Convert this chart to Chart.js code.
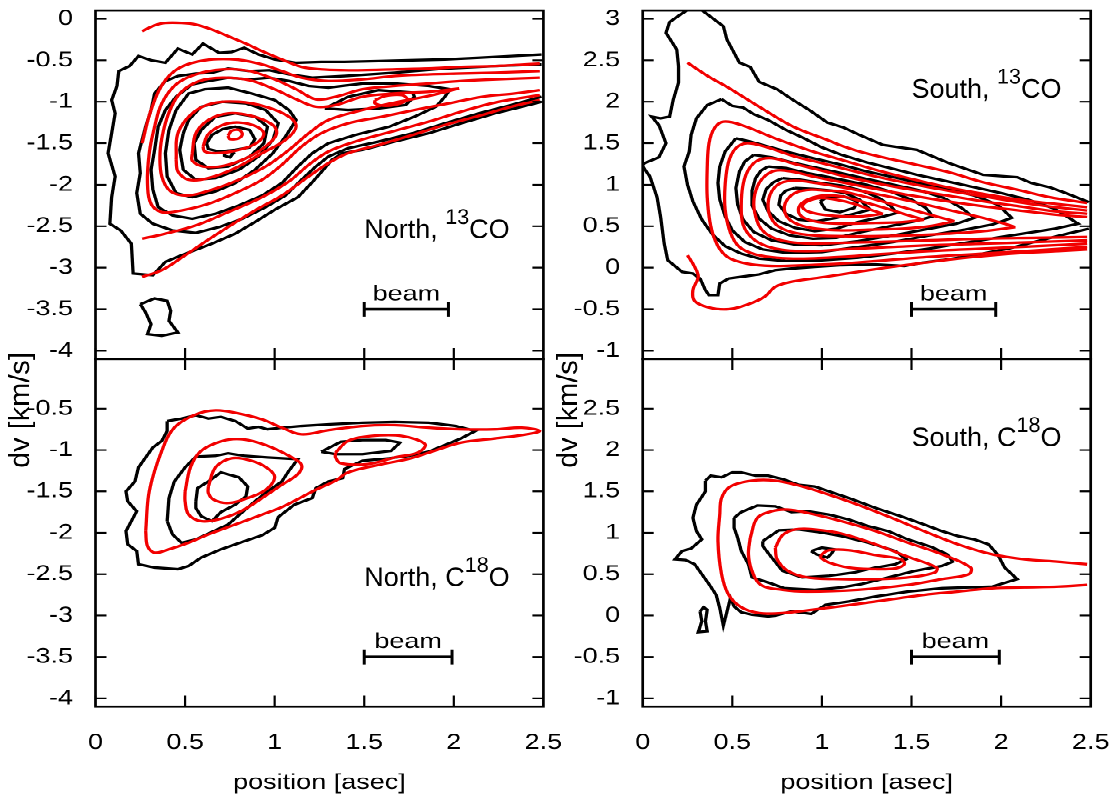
<!DOCTYPE html>
<html><head><meta charset="utf-8"><title>PV contours</title>
<script src="https://cdn.jsdelivr.net/npm/chart.js@4.4.1/dist/chart.umd.min.js"></script>
<style>
html,body{margin:0;padding:0;background:#fff;width:1116px;height:803px;overflow:hidden}
#stage{position:absolute;left:0;top:0;width:1116px;height:1004px;transform:scale(1,0.8);transform-origin:0 0}
#stage canvas{position:absolute;left:0;top:0}
</style></head><body>
<div id="stage">
<canvas id="tl" width="1116" height="1004"></canvas>
<canvas id="tr" width="1116" height="1004"></canvas>
<canvas id="bl" width="1116" height="1004"></canvas>
<canvas id="br" width="1116" height="1004"></canvas>
</div>
<script>
// ---------------- data ----------------
const xTicks = [0, 0.5, 1, 1.5, 2, 2.5];
const yTicksNorth13 = [0, -0.5, -1, -1.5, -2, -2.5, -3, -3.5, -4];
const yTicksNorth18 = [-0.5, -1, -1.5, -2, -2.5, -3, -3.5, -4];
const yTicksSouth13 = [3, 2.5, 2, 1.5, 1, 0.5, 0, -0.5, -1];
const yTicksSouth18 = [2.5, 2, 1.5, 1, 0.5, 0, -0.5, -1];
const xRange = [0, 2.5];
const yRangeNorth = [-4.1, 0.1];
const yRangeSouth = [-1.1, 3.1];
const beam13 = [1.5, 1.97];
const beam18 = [1.5, 1.99];
const beamYNorth = -3.5;
const beamYSouth = -0.5;
const labelXPos = 1.5;
const labelYNorth = -2.55;
const labelYSouth = 2.14;

// North, 13CO : observed (black)
const north13Obs = [
 [[2.49,-0.43],[2.32,-0.45],[2.14,-0.47],[1.95,-0.49],[1.77,-0.50],[1.58,-0.51],[1.39,-0.52],[1.26,-0.52],[1.12,-0.53],[1.0,-0.49],[0.91,-0.43],[0.83,-0.35],[0.76,-0.40],[0.69,-0.41],[0.60,-0.30],[0.54,-0.43],[0.46,-0.36],[0.39,-0.53],[0.31,-0.50],[0.24,-0.45],[0.19,-0.57],[0.13,-0.63],[0.12,-0.81],[0.09,-0.98],[0.11,-1.14],[0.09,-1.38],[0.07,-1.62],[0.11,-1.90],[0.09,-2.15],[0.08,-2.47],[0.14,-2.55],[0.20,-2.71],[0.21,-3.07],[0.32,-3.09],[0.39,-2.93],[0.48,-2.85],[0.65,-2.71],[0.78,-2.59],[0.89,-2.45],[1.01,-2.29],[1.13,-2.15],[1.21,-1.97],[1.28,-1.80],[1.32,-1.70],[1.38,-1.62],[1.49,-1.58],[1.67,-1.48],[1.86,-1.38],[2.04,-1.26],[2.23,-1.14],[2.38,-1.06],[2.49,-1.0]],
 [[2.49,-0.55],[2.23,-0.57],[1.95,-0.60],[1.67,-0.65],[1.39,-0.69],[1.21,-0.71],[1.08,-0.67],[0.97,-0.62],[0.86,-0.63],[0.74,-0.60],[0.65,-0.65],[0.56,-0.66],[0.46,-0.69],[0.39,-0.75],[0.33,-0.90],[0.31,-1.10],[0.28,-1.30],[0.24,-1.62],[0.25,-1.86],[0.23,-2.10],[0.25,-2.35],[0.32,-2.47],[0.43,-2.55],[0.56,-2.58],[0.69,-2.51],[0.82,-2.41],[0.95,-2.27],[1.06,-2.13],[1.15,-1.94],[1.23,-1.78],[1.30,-1.66],[1.41,-1.56],[1.58,-1.48],[1.77,-1.38],[1.95,-1.26],[2.14,-1.14],[2.32,-1.04],[2.49,-0.94]],
 [[1.98,-0.85],[1.86,-0.81],[1.67,-0.78],[1.49,-0.78],[1.30,-0.83],[1.19,-0.81],[1.08,-0.75],[0.97,-0.71],[0.86,-0.73],[0.74,-0.71],[0.63,-0.75],[0.54,-0.79],[0.45,-0.94],[0.39,-1.10],[0.35,-1.30],[0.33,-1.58],[0.31,-1.82],[0.32,-2.06],[0.35,-2.27],[0.43,-2.37],[0.54,-2.41],[0.67,-2.35],[0.80,-2.25],[0.93,-2.13],[1.04,-1.98],[1.13,-1.78],[1.21,-1.62],[1.30,-1.50],[1.45,-1.40],[1.64,-1.30],[1.78,-1.18],[1.90,-1.06],[1.95,-0.94],[1.98,-0.85]],
 [[0.45,-1.10],[0.52,-0.90],[0.61,-0.85],[0.74,-0.83],[0.87,-0.90],[1.0,-0.98],[1.08,-1.10],[1.12,-1.22],[1.06,-1.42],[0.99,-1.62],[0.89,-1.82],[0.78,-1.98],[0.67,-2.08],[0.54,-2.15],[0.45,-2.10],[0.40,-1.90],[0.39,-1.62],[0.41,-1.34],[0.45,-1.10]],
 [[1.28,-1.08],[1.41,-0.94],[1.58,-0.86],[1.77,-0.89],[1.78,-0.94],[1.73,-1.04],[1.58,-1.08],[1.41,-1.10],[1.28,-1.08]],
 [[0.49,-1.38],[0.52,-1.22],[0.59,-1.06],[0.71,-1.0],[0.84,-1.02],[0.95,-1.10],[1.02,-1.26],[0.99,-1.46],[0.91,-1.66],[0.80,-1.82],[0.67,-1.92],[0.56,-1.94],[0.49,-1.82],[0.47,-1.58],[0.49,-1.38]],
 [[0.55,-1.50],[0.59,-1.34],[0.67,-1.18],[0.78,-1.14],[0.89,-1.18],[0.96,-1.30],[0.94,-1.50],[0.86,-1.66],[0.74,-1.78],[0.63,-1.80],[0.56,-1.70],[0.55,-1.50]],
 [[0.62,-1.50],[0.65,-1.40],[0.71,-1.33],[0.78,-1.30],[0.86,-1.34],[0.89,-1.45],[0.86,-1.55],[0.78,-1.58],[0.69,-1.60],[0.63,-1.57],[0.62,-1.50]],
 [[0.72,-1.61],[0.74,-1.59],[0.77,-1.62],[0.75,-1.67],[0.72,-1.65],[0.72,-1.61]],
 [[0.25,-3.44],[0.33,-3.37],[0.40,-3.40],[0.42,-3.52],[0.41,-3.64],[0.46,-3.78],[0.37,-3.82],[0.29,-3.80],[0.31,-3.68],[0.28,-3.54],[0.25,-3.44]]
];
// North, 13CO : model (red)
const north13Mod = [
 [[0.26,-0.15],[0.33,-0.08],[0.39,-0.05],[0.48,-0.05],[0.56,-0.07],[0.65,-0.13],[0.74,-0.21],[0.84,-0.30],[0.93,-0.39],[1.04,-0.49],[1.15,-0.58],[1.26,-0.61],[1.39,-0.62],[1.49,-0.62],[1.67,-0.61],[1.86,-0.60],[2.04,-0.58],[2.23,-0.57],[2.48,-0.54]],
 [[0.26,-1.50],[0.31,-1.10],[0.38,-0.77],[0.47,-0.59],[0.61,-0.50],[0.78,-0.49],[0.93,-0.55],[1.04,-0.63],[1.15,-0.71],[1.30,-0.75],[1.49,-0.73],[1.67,-0.69],[1.86,-0.67],[2.04,-0.66],[2.23,-0.65],[2.48,-0.63]],
 [[0.26,-2.65],[0.37,-2.60],[0.56,-2.49],[0.74,-2.33],[0.93,-2.15],[1.08,-1.96],[1.19,-1.76],[1.30,-1.60],[1.45,-1.48],[1.67,-1.35],[1.86,-1.24],[2.04,-1.12],[2.23,-1.01],[2.48,-0.92]],
 [[0.26,-3.11],[0.37,-3.03],[0.48,-2.88],[0.61,-2.69],[0.74,-2.51],[0.89,-2.31],[1.04,-2.13],[1.19,-1.90],[1.30,-1.74],[1.41,-1.62],[1.58,-1.52],[1.77,-1.40],[1.95,-1.28],[2.14,-1.17],[2.32,-1.06],[2.48,-0.98]],
 [[2.48,-0.86],[2.34,-0.90],[2.16,-0.94],[1.97,-1.02],[1.78,-1.10],[1.60,-1.18],[1.41,-1.26],[1.26,-1.38],[1.15,-1.54],[1.04,-1.76],[0.93,-1.94],[0.78,-2.10],[0.63,-2.23],[0.48,-2.31],[0.37,-2.33],[0.31,-2.23],[0.29,-1.98],[0.30,-1.62],[0.33,-1.30],[0.37,-1.02],[0.45,-0.79],[0.56,-0.67],[0.71,-0.61],[0.86,-0.63],[1.00,-0.73],[1.12,-0.85],[1.23,-0.97],[1.34,-0.94],[1.49,-0.85],[1.67,-0.81],[1.86,-0.78],[2.04,-0.75],[2.23,-0.73],[2.48,-0.71]],
 [[2.03,-0.84],[1.86,-0.88],[1.67,-0.90],[1.49,-0.94],[1.34,-1.04],[1.23,-1.06],[1.12,-0.97],[1.00,-0.85],[0.86,-0.74],[0.71,-0.71],[0.58,-0.75],[0.48,-0.88],[0.42,-1.08],[0.38,-1.34],[0.36,-1.62],[0.37,-1.90],[0.42,-2.08],[0.51,-2.13],[0.65,-2.06],[0.80,-1.94],[0.95,-1.78],[1.08,-1.58],[1.19,-1.38],[1.30,-1.22],[1.49,-1.10],[1.67,-1.01],[1.86,-0.93],[2.03,-0.84]],
 [[0.45,-1.70],[0.46,-1.38],[0.54,-1.14],[0.65,-1.02],[0.80,-1.00],[0.95,-1.06],[1.08,-1.18],[1.12,-1.30],[1.06,-1.46],[0.93,-1.62],[0.78,-1.80],[0.63,-1.92],[0.52,-1.94],[0.46,-1.84],[0.45,-1.70]],
 [[0.54,-1.62],[0.56,-1.38],[0.63,-1.22],[0.74,-1.14],[0.87,-1.17],[0.99,-1.28],[1.01,-1.39],[0.96,-1.52],[0.86,-1.66],[0.72,-1.77],[0.60,-1.78],[0.54,-1.71],[0.54,-1.62]],
 [[0.60,-1.54],[0.63,-1.39],[0.71,-1.28],[0.80,-1.25],[0.90,-1.30],[0.94,-1.39],[0.89,-1.51],[0.78,-1.59],[0.67,-1.62],[0.61,-1.60],[0.60,-1.54]],
 [[0.74,-1.41],[0.76,-1.35],[0.80,-1.34],[0.82,-1.39],[0.80,-1.44],[0.75,-1.45],[0.74,-1.41]],
 [[1.56,-0.98],[1.62,-0.93],[1.71,-0.92],[1.74,-0.97],[1.70,-1.02],[1.62,-1.05],[1.56,-1.02],[1.56,-0.98]]
];

// South, 13CO : observed (black)
const south13Obs = [
 [[0.26,3.12],[0.21,3.05],[0.15,2.96],[0.13,2.83],[0.19,2.63],[0.20,2.43],[0.20,2.23],[0.17,2.02],[0.15,1.82],[0.10,1.80],[0.05,1.82],[0.09,1.72],[0.13,1.50],[0.09,1.33],[0.01,1.26],[0.0,1.24]],
 [[0.0,1.22],[0.04,1.10],[0.08,0.85],[0.10,0.61],[0.12,0.29],[0.14,0.09],[0.22,-0.05],[0.28,-0.07],[0.32,-0.13],[0.35,-0.27],[0.37,-0.33],[0.42,-0.33],[0.43,-0.19],[0.48,-0.13],[0.55,-0.11],[0.65,-0.08],[0.74,-0.03],[0.83,-0.01],[0.96,0.01],[1.11,0.03],[1.30,0.04],[1.46,0.02],[1.56,0.06],[1.67,0.09],[1.85,0.15],[2.04,0.23],[2.22,0.33],[2.37,0.41],[2.49,0.47]],
 [[0.32,3.12],[0.45,2.91],[0.47,2.75],[0.54,2.47],[0.60,2.42],[0.65,2.24],[0.75,2.15],[0.84,2.02],[0.93,1.90],[1.03,1.75],[1.12,1.69],[1.21,1.60],[1.34,1.48],[1.53,1.42],[1.71,1.26],[1.90,1.12],[2.09,1.09],[2.17,1.02],[2.27,0.97],[2.36,0.90],[2.49,0.79]],
 [[0.44,2.03],[0.50,1.95],[0.56,1.93],[0.62,1.85],[0.70,1.78],[0.80,1.66],[0.90,1.56],[1.0,1.45],[1.11,1.36],[1.25,1.27],[1.40,1.19],[1.55,1.11],[1.70,1.04],[1.85,0.97],[2.00,0.90],[2.15,0.82],[2.30,0.71],[2.43,0.53],[2.30,0.47],[2.15,0.42],[2.00,0.37],[1.80,0.30],[1.60,0.23],[1.40,0.17],[1.20,0.12],[1.00,0.09],[0.80,0.08],[0.65,0.11],[0.55,0.17],[0.46,0.26],[0.39,0.40],[0.33,0.58],[0.28,0.80],[0.25,1.00],[0.23,1.22],[0.26,1.40],[0.27,1.60],[0.30,1.80],[0.36,1.96],[0.44,2.03]],
 [[0.52,1.56],[0.60,1.52],[0.70,1.46],[0.80,1.40],[0.95,1.32],[1.11,1.24],[1.25,1.16],[1.40,1.09],[1.55,1.02],[1.70,0.95],[1.85,0.87],[1.98,0.76],[2.06,0.60],[1.95,0.52],[1.80,0.46],[1.60,0.39],[1.40,0.31],[1.20,0.25],[1.00,0.19],[0.80,0.18],[0.67,0.22],[0.57,0.31],[0.50,0.45],[0.46,0.62],[0.43,0.82],[0.42,1.02],[0.43,1.22],[0.46,1.40],[0.52,1.56]],
 [[0.62,1.36],[0.72,1.33],[0.85,1.26],[1.0,1.19],[1.11,1.14],[1.25,1.07],[1.40,1.00],[1.55,0.93],[1.68,0.84],[1.78,0.72],[1.85,0.60],[1.75,0.53],[1.60,0.47],[1.40,0.39],[1.20,0.32],[1.00,0.27],[0.85,0.28],[0.72,0.33],[0.62,0.43],[0.56,0.58],[0.53,0.76],[0.52,0.96],[0.54,1.16],[0.57,1.28],[0.62,1.36]],
 [[0.70,1.22],[0.80,1.20],[0.92,1.14],[1.02,1.10],[1.11,1.06],[1.25,1.00],[1.38,0.92],[1.50,0.82],[1.58,0.72],[1.62,0.62],[1.52,0.56],[1.38,0.50],[1.22,0.43],[1.08,0.36],[0.95,0.35],[0.82,0.39],[0.72,0.47],[0.65,0.59],[0.61,0.75],[0.61,0.93],[0.63,1.08],[0.66,1.17],[0.70,1.22]],
 [[0.78,1.08],[0.88,1.06],[1.00,1.02],[1.11,0.99],[1.22,0.93],[1.32,0.84],[1.38,0.75],[1.42,0.66],[1.33,0.61],[1.20,0.55],[1.08,0.47],[0.96,0.44],[0.85,0.48],[0.76,0.56],[0.70,0.68],[0.67,0.82],[0.69,0.95],[0.73,1.03],[0.78,1.08]],
 [[0.85,0.96],[0.95,0.95],[1.05,0.93],[1.13,0.90],[1.21,0.82],[1.27,0.70],[1.18,0.65],[1.08,0.60],[0.97,0.56],[0.87,0.58],[0.80,0.65],[0.76,0.76],[0.77,0.87],[0.80,0.93],[0.85,0.96]],
 [[0.99,0.80],[1.03,0.85],[1.12,0.86],[1.20,0.80],[1.18,0.72],[1.10,0.67],[1.02,0.70],[0.99,0.80]]
];
// South, 13CO : model (red)
const south13Mod = [
 [[0.25,2.47],[0.37,2.30],[0.47,2.18],[0.65,1.94],[0.84,1.70],[1.03,1.54],[1.11,1.47],[1.21,1.40],[1.34,1.33],[1.53,1.24],[1.71,1.15],[1.90,1.03],[2.09,0.94],[2.27,0.85],[2.48,0.78]],
 [[0.25,0.15],[0.29,0.01],[0.31,-0.11],[0.28,-0.27],[0.29,-0.40],[0.37,-0.48],[0.48,-0.50],[0.59,-0.44],[0.68,-0.35],[0.74,-0.23],[0.83,-0.17],[1.02,-0.11],[1.20,-0.05],[1.39,0.01],[1.57,0.06],[1.76,0.11],[1.95,0.15],[2.13,0.18],[2.32,0.20],[2.48,0.22]],
 [[2.48,0.25],[2.2,0.21],[1.9,0.17],[1.6,0.13],[1.3,0.08],[1.11,0.05],[0.9,0.03],[0.72,0.02],[0.58,0.05],[0.48,0.12],[0.42,0.26],[0.38,0.50],[0.36,0.85],[0.36,1.20],[0.37,1.50],[0.40,1.68],[0.45,1.76],[0.55,1.72],[0.75,1.55],[0.95,1.40],[1.11,1.30],[1.3,1.18],[1.5,1.07],[1.7,0.97],[1.9,0.89],[2.1,0.82],[2.3,0.77],[2.48,0.73]],
 [[2.48,0.29],[2.2,0.26],[1.9,0.23],[1.6,0.20],[1.3,0.16],[1.11,0.13],[0.9,0.11],[0.75,0.12],[0.63,0.16],[0.54,0.25],[0.49,0.42],[0.46,0.70],[0.46,1.00],[0.48,1.28],[0.52,1.44],[0.58,1.50],[0.68,1.46],[0.85,1.34],[1.0,1.26],[1.11,1.20],[1.3,1.10],[1.5,1.01],[1.7,0.93],[1.9,0.86],[2.1,0.79],[2.3,0.73],[2.48,0.69]],
 [[2.48,0.33],[2.2,0.31],[1.9,0.29],[1.6,0.27],[1.3,0.24],[1.11,0.22],[0.95,0.20],[0.80,0.21],[0.69,0.26],[0.61,0.36],[0.56,0.52],[0.55,0.75],[0.56,1.00],[0.59,1.18],[0.64,1.29],[0.72,1.32],[0.85,1.25],[1.0,1.17],[1.11,1.11],[1.3,1.02],[1.5,0.94],[1.7,0.87],[1.9,0.80],[2.1,0.74],[2.3,0.68],[2.48,0.65]],
 [[2.48,0.37],[2.2,0.36],[1.9,0.35],[1.6,0.33],[1.3,0.31],[1.11,0.30],[0.95,0.29],[0.82,0.31],[0.72,0.37],[0.66,0.47],[0.63,0.62],[0.62,0.80],[0.64,0.98],[0.68,1.10],[0.74,1.17],[0.83,1.16],[0.97,1.09],[1.11,1.03],[1.3,0.95],[1.5,0.87],[1.7,0.80],[1.9,0.74],[2.1,0.69],[2.3,0.64],[2.48,0.61]],
 [[2.08,0.49],[1.9,0.44],[1.7,0.41],[1.5,0.39],[1.3,0.38],[1.11,0.38],[0.95,0.39],[0.83,0.43],[0.75,0.51],[0.71,0.63],[0.70,0.78],[0.72,0.92],[0.77,1.02],[0.85,1.05],[0.97,1.02],[1.11,0.97],[1.3,0.89],[1.5,0.80],[1.7,0.70],[1.9,0.60],[2.02,0.53],[2.08,0.49]],
 [[1.74,0.56],[1.6,0.50],[1.45,0.47],[1.3,0.46],[1.11,0.45],[0.97,0.47],[0.87,0.52],[0.81,0.60],[0.79,0.72],[0.81,0.83],[0.86,0.91],[0.94,0.94],[1.02,0.93],[1.11,0.92],[1.25,0.85],[1.4,0.76],[1.55,0.67],[1.67,0.60],[1.74,0.56]],
 [[1.57,0.58],[1.45,0.55],[1.3,0.54],[1.11,0.53],[0.98,0.55],[0.90,0.60],[0.87,0.67],[0.88,0.76],[0.93,0.83],[1.01,0.87],[1.11,0.86],[1.22,0.80],[1.35,0.72],[1.47,0.64],[1.57,0.58]],
 [[1.34,0.65],[1.23,0.62],[1.11,0.62],[1.0,0.64],[0.92,0.68],[0.89,0.74],[0.92,0.80],[0.99,0.84],[1.08,0.82],[1.18,0.77],[1.27,0.70],[1.34,0.65]]
];

// North, C18O : observed (black)
const north18Obs = [
 [[0.40,-0.65],[0.48,-0.62],[0.56,-0.58],[0.63,-0.62],[0.70,-0.60],[0.78,-0.65],[0.85,-0.74],[0.91,-0.72],[0.96,-0.75],[1.04,-0.73],[1.15,-0.71],[1.30,-0.69],[1.49,-0.67],[1.67,-0.66],[1.86,-0.67],[2.01,-0.71],[2.12,-0.77],[2.04,-0.86],[1.95,-0.94],[1.86,-1.02],[1.75,-1.07],[1.64,-1.10],[1.49,-1.13],[1.39,-1.23],[1.38,-1.34],[1.30,-1.38],[1.23,-1.46],[1.21,-1.58],[1.11,-1.66],[1.02,-1.81],[1.00,-1.94],[0.93,-2.03],[0.82,-2.11],[0.70,-2.20],[0.59,-2.30],[0.52,-2.40],[0.46,-2.44],[0.33,-2.42],[0.24,-2.38],[0.23,-2.22],[0.18,-2.14],[0.17,-1.98],[0.20,-1.86],[0.23,-1.74],[0.18,-1.62],[0.17,-1.50],[0.22,-1.38],[0.24,-1.21],[0.28,-1.09],[0.32,-0.97],[0.37,-0.89],[0.40,-0.77],[0.40,-0.65]],
 [[0.40,-1.86],[0.41,-1.58],[0.44,-1.38],[0.50,-1.21],[0.56,-1.08],[0.67,-1.07],[0.74,-1.04],[0.83,-1.07],[0.96,-1.09],[1.13,-1.11],[1.08,-1.25],[1.04,-1.38],[0.96,-1.50],[0.89,-1.62],[0.82,-1.75],[0.74,-1.90],[0.65,-1.99],[0.56,-2.08],[0.48,-2.12],[0.43,-2.02],[0.40,-1.86]],
 [[0.56,-1.62],[0.57,-1.46],[0.63,-1.38],[0.70,-1.27],[0.80,-1.33],[0.85,-1.44],[0.84,-1.56],[0.78,-1.66],[0.70,-1.75],[0.65,-1.86],[0.59,-1.80],[0.56,-1.70],[0.56,-1.62]],
 [[1.26,-1.02],[1.37,-0.90],[1.49,-0.88],[1.62,-0.88],[1.70,-0.91],[1.65,-1.01],[1.49,-1.05],[1.34,-1.05],[1.26,-1.02]]
];
// North, C18O : model (red)
const north18Mod = [
 [[0.28,-1.98],[0.30,-1.50],[0.37,-1.01],[0.44,-0.73],[0.56,-0.57],[0.67,-0.52],[0.78,-0.55],[0.93,-0.63],[1.04,-0.73],[1.15,-0.81],[1.30,-0.76],[1.49,-0.71],[1.67,-0.70],[1.86,-0.73],[2.04,-0.75],[2.23,-0.75],[2.38,-0.73],[2.48,-0.77],[2.38,-0.82],[2.23,-0.86],[2.04,-0.91],[1.89,-1.01],[1.76,-1.10],[1.58,-1.18],[1.41,-1.27],[1.34,-1.37],[1.23,-1.48],[1.15,-1.57],[1.04,-1.69],[0.93,-1.78],[0.78,-1.90],[0.63,-2.02],[0.52,-2.12],[0.41,-2.20],[0.33,-2.24],[0.29,-2.16],[0.28,-1.98]],
 [[0.50,-1.50],[0.53,-1.21],[0.59,-1.01],[0.71,-0.89],[0.82,-0.87],[0.95,-0.94],[1.08,-1.07],[1.15,-1.18],[1.13,-1.29],[1.04,-1.42],[0.93,-1.58],[0.82,-1.73],[0.70,-1.83],[0.59,-1.86],[0.52,-1.78],[0.50,-1.62],[0.50,-1.50]],
 [[0.63,-1.44],[0.67,-1.21],[0.76,-1.10],[0.87,-1.13],[0.96,-1.22],[1.00,-1.33],[0.95,-1.48],[0.85,-1.58],[0.74,-1.64],[0.66,-1.60],[0.63,-1.52],[0.63,-1.44]],
 [[1.34,-1.03],[1.41,-0.89],[1.54,-0.83],[1.71,-0.83],[1.84,-0.93],[1.80,-1.03],[1.67,-1.09],[1.52,-1.17],[1.37,-1.16],[1.34,-1.09],[1.34,-1.03]]
];

// South, C18O : observed (black)
const south18Obs = [
 [[0.35,1.63],[0.38,1.69],[0.44,1.67],[0.50,1.73],[0.55,1.73],[0.63,1.69],[0.70,1.69],[0.78,1.65],[0.87,1.58],[0.96,1.56],[1.04,1.50],[1.15,1.42],[1.30,1.30],[1.44,1.20],[1.57,1.10],[1.67,1.02],[1.76,0.96],[1.85,0.92],[1.93,0.86],[1.98,0.74],[2.02,0.58],[2.09,0.44],[1.95,0.35],[1.67,0.33],[1.48,0.29],[1.30,0.23],[1.15,0.17],[1.02,0.13],[0.94,0.02],[0.83,0.05],[0.74,0.0],[0.70,-0.01],[0.61,0.01],[0.55,0.04],[0.51,0.11],[0.49,0.21],[0.45,-0.12],[0.43,0.09],[0.41,0.25],[0.37,0.38],[0.29,0.62],[0.24,0.67],[0.18,0.68],[0.22,0.78],[0.27,0.81],[0.33,0.92],[0.30,1.02],[0.28,1.18],[0.30,1.34],[0.35,1.50],[0.35,1.63]],
 [[0.32,0.05],[0.34,0.10],[0.36,0.07],[0.35,-0.07],[0.36,-0.19],[0.31,-0.20],[0.33,-0.07],[0.32,0.05]],
 [[0.51,1.18],[0.55,1.25],[0.64,1.33],[0.74,1.32],[0.83,1.25],[0.92,1.26],[1.04,1.22],[1.15,1.16],[1.26,1.08],[1.37,1.02],[1.48,0.92],[1.61,0.83],[1.70,0.74],[1.73,0.65],[1.67,0.60],[1.52,0.54],[1.37,0.46],[1.22,0.38],[1.11,0.34],[0.96,0.31],[0.79,0.33],[0.70,0.40],[0.61,0.46],[0.59,0.62],[0.55,0.78],[0.53,0.94],[0.51,1.06],[0.51,1.18]],
 [[0.67,0.90],[0.76,1.03],[0.87,1.04],[0.98,1.01],[1.11,0.96],[1.26,0.88],[1.41,0.78],[1.47,0.68],[1.41,0.62],[1.30,0.58],[1.18,0.52],[1.04,0.48],[0.89,0.46],[0.78,0.54],[0.72,0.70],[0.67,0.84],[0.67,0.90]],
 [[0.94,0.78],[1.0,0.82],[1.07,0.80],[1.05,0.74],[1.03,0.70],[0.97,0.74],[0.94,0.78]]
];
// South, C18O : model (red)
const south18Mod = [
 [[2.48,0.62],[2.32,0.65],[2.13,0.68],[1.95,0.74],[1.76,0.86],[1.57,1.02],[1.39,1.18],[1.20,1.34],[1.04,1.46],[0.89,1.56],[0.74,1.63],[0.61,1.63],[0.49,1.56],[0.44,1.42],[0.43,1.22],[0.42,0.90],[0.44,0.50],[0.48,0.25],[0.55,0.10],[0.65,0.03],[0.78,0.03],[1.02,0.09],[1.30,0.17],[1.57,0.25],[1.76,0.29],[1.95,0.33],[2.13,0.34],[2.32,0.35],[2.48,0.37]],
 [[0.60,0.94],[0.64,1.18],[0.72,1.26],[0.81,1.28],[0.92,1.24],[1.11,1.14],[1.30,1.02],[1.48,0.88],[1.67,0.74],[1.83,0.58],[1.82,0.50],[1.67,0.44],[1.48,0.37],[1.20,0.31],[0.92,0.29],[0.78,0.31],[0.66,0.37],[0.61,0.54],[0.59,0.74],[0.60,0.94]],
 [[0.74,0.82],[0.78,0.97],[0.85,1.04],[0.96,1.04],[1.11,0.99],[1.30,0.86],[1.48,0.71],[1.64,0.58],[1.63,0.52],[1.48,0.46],[1.30,0.44],[1.11,0.44],[0.92,0.46],[0.81,0.54],[0.75,0.68],[0.74,0.82]],
 [[0.99,0.70],[1.0,0.74],[1.04,0.79],[1.15,0.79],[1.30,0.73],[1.44,0.68],[1.46,0.62],[1.41,0.57],[1.30,0.56],[1.15,0.58],[1.04,0.64],[0.99,0.70]]
];

// ---------------- rendering ----------------
const FONT = '"Liberation Sans", Arial, Helvetica, sans-serif';
Chart.defaults.font.family = FONT;
Chart.defaults.color = '#000';
const RED = 'rgb(242,0,0)';
const SQUASH = 0.8;            // vertical scale applied to #stage
const CW = 1116, CH = 1004;
const Y_AXIS_W = 80, X_AXIS_H = 111.7;
const panelsBox = {
  tl: {left: 95.5, right: 543.4, top: 13.1, bottom: 448.75},
  tr: {left: 642.7, right: 1090.7, top: 13.1, bottom: 448.75},
  bl: {left: 95.5, right: 543.4, top: 448.75, bottom: 883.25},
  br: {left: 642.7, right: 1090.7, top: 448.75, bottom: 883.25}
};

function contourSets(list, color, tension, order) {
  return list.map(c => ({
    data: c.map(p => ({x: p[0], y: p[1]})),
    showLine: true, borderColor: color, borderWidth: 3.3, pointRadius: 0,
    pointHoverRadius: 0, tension: tension, fill: false, order: order
  }));
}
function beamSet(beam, by) {
  return {
    data: [{x: beam[0], y: by}, {x: beam[1], y: by}],
    showLine: true, borderColor: '#000', borderWidth: 3.6, tension: 0,
    pointStyle: 'line', pointRotation: 90, pointRadius: 9.4,
    pointBorderWidth: 3, pointBorderColor: '#000', pointHoverRadius: 9.4, order: 0
  };
}

function makePanel(id, cfg) {
  const box = panelsBox[id];
  const bottomRow = cfg.bottomRow;
  const decor = {
    id: 'decor_' + id,
    afterDraw(chart) {
      const {ctx, chartArea: a, scales: {x, y}} = chart;
      ctx.save();
      ctx.strokeStyle = '#000';
      ctx.fillStyle = '#000';
      ctx.lineWidth = 2.2;
      ctx.beginPath();
      cfg.yTicks.forEach(v => {
        const py = y.getPixelForValue(v);
        ctx.moveTo(a.left, py); ctx.lineTo(a.left + 11, py);
        ctx.moveTo(a.right, py); ctx.lineTo(a.right - 11, py);
      });
      xTicks.forEach(v => {
        const px = x.getPixelForValue(v);
        ctx.moveTo(px, a.bottom); ctx.lineTo(px, a.bottom - 13.75);
        if (bottomRow) { ctx.moveTo(px, a.top); ctx.lineTo(px, a.top + 13.75); }
      });
      ctx.stroke();
      ctx.lineWidth = 2.7;
      ctx.strokeRect(a.left, a.top, a.right - a.left, a.bottom - a.top);
      // panel label with superscript (drawn with natural proportions)
      ctx.save();
      ctx.translate(x.getPixelForValue(labelXPos), y.getPixelForValue(cfg.labelY) + 9.5);
      ctx.scale(1, 1 / SQUASH);
      ctx.textAlign = 'left';
      ctx.textBaseline = 'alphabetic';
      let lx = 0;
      cfg.label.forEach(part => {
        ctx.font = (part.sup ? '21.5px ' : '27px ') + FONT;
        ctx.fillText(part.t, lx, part.sup ? -14 : 0);
        lx += ctx.measureText(part.t).width;
      });
      ctx.restore();
      // beam caption
      ctx.font = '27px ' + FONT;
      ctx.textAlign = 'center';
      ctx.textBaseline = 'alphabetic';
      ctx.fillText('beam', x.getPixelForValue((cfg.beam[0] + cfg.beam[1]) / 2), y.getPixelForValue(cfg.beamY) - 11);
      // y axis title
      if (cfg.yTitleX !== undefined) {
        ctx.save();
        ctx.translate(cfg.yTitleX, 410 / SQUASH);
        ctx.scale(1, 1 / SQUASH);
        ctx.rotate(-Math.PI / 2);
        ctx.textAlign = 'center';
        ctx.textBaseline = 'middle';
        ctx.font = '29px ' + FONT;
        ctx.fillText('dv [km/s]', 0, 0);
        ctx.restore();
      }
      ctx.restore();
    }
  };
  const datasets = [].concat(
    contourSets(cfg.model, RED, 0.35, 1),
    contourSets(cfg.obs, '#000', 0, 2),
    [beamSet(cfg.beam, cfg.beamY)]
  );
  return new Chart(document.getElementById(id), {
    type: 'scatter',
    data: {datasets},
    options: {
      responsive: false, animation: false, devicePixelRatio: 2, events: [],
      layout: {padding: {
        left: box.left - Y_AXIS_W, right: CW - box.right, top: box.top,
        bottom: bottomRow ? CH - box.bottom - X_AXIS_H : CH - box.bottom
      }},
      plugins: {legend: {display: false}, tooltip: {enabled: false}, title: {display: false}},
      scales: {
        x: {
          type: 'linear', position: 'bottom', min: xRange[0], max: xRange[1],
          afterBuildTicks: s => { s.ticks = xTicks.map(v => ({value: v})); },
          afterFit: s => { s.height = bottomRow ? X_AXIS_H : 0; s.paddingLeft = 0; s.paddingRight = 0; s.paddingTop = 0; s.paddingBottom = 0; },
          grid: {display: false, drawTicks: false}, border: {display: false},
          ticks: {display: bottomRow, padding: 29.3, autoSkip: false, maxRotation: 0, font: {size: 27}, color: '#000', callback: v => String(v)},
          title: {display: bottomRow, text: 'position [asec]', font: {size: 27}, color: '#000', padding: 0}
        },
        y: {
          type: 'linear', position: 'left', min: cfg.yRange[0], max: cfg.yRange[1],
          afterBuildTicks: s => { s.ticks = cfg.yTicks.map(v => ({value: v})); },
          afterFit: s => { s.width = Y_AXIS_W; s.paddingLeft = 0; s.paddingRight = 0; s.paddingTop = 0; s.paddingBottom = 0; },
          grid: {display: false, drawTicks: false}, border: {display: false},
          ticks: {padding: 22.5, autoSkip: false, font: {size: 27}, color: '#000', callback: v => String(v)}
        }
      }
    },
    plugins: [decor]
  });
}

makePanel('tl', {bottomRow: false, yTicks: yTicksNorth13, yRange: yRangeNorth, obs: north13Obs, model: north13Mod,
  beam: beam13, beamY: beamYNorth, labelY: labelYNorth,
  label: [{t: 'North, '}, {t: '13', sup: true}, {t: 'CO'}]});
makePanel('tr', {bottomRow: false, yTicks: yTicksSouth13, yRange: yRangeSouth, obs: south13Obs, model: south13Mod,
  beam: beam13, beamY: beamYSouth, labelY: labelYSouth,
  label: [{t: 'South, '}, {t: '13', sup: true}, {t: 'CO'}]});
makePanel('bl', {bottomRow: true, yTicks: yTicksNorth18, yRange: yRangeNorth, obs: north18Obs, model: north18Mod,
  beam: beam18, beamY: beamYNorth, labelY: labelYNorth, yTitleX: 21,
  label: [{t: 'North, C'}, {t: '18', sup: true}, {t: 'O'}]});
makePanel('br', {bottomRow: true, yTicks: yTicksSouth18, yRange: yRangeSouth, obs: south18Obs, model: south18Mod,
  beam: beam18, beamY: beamYSouth, labelY: labelYSouth, yTitleX: 569,
  label: [{t: 'South, C'}, {t: '18', sup: true}, {t: 'O'}]});
</script>
</body></html>
